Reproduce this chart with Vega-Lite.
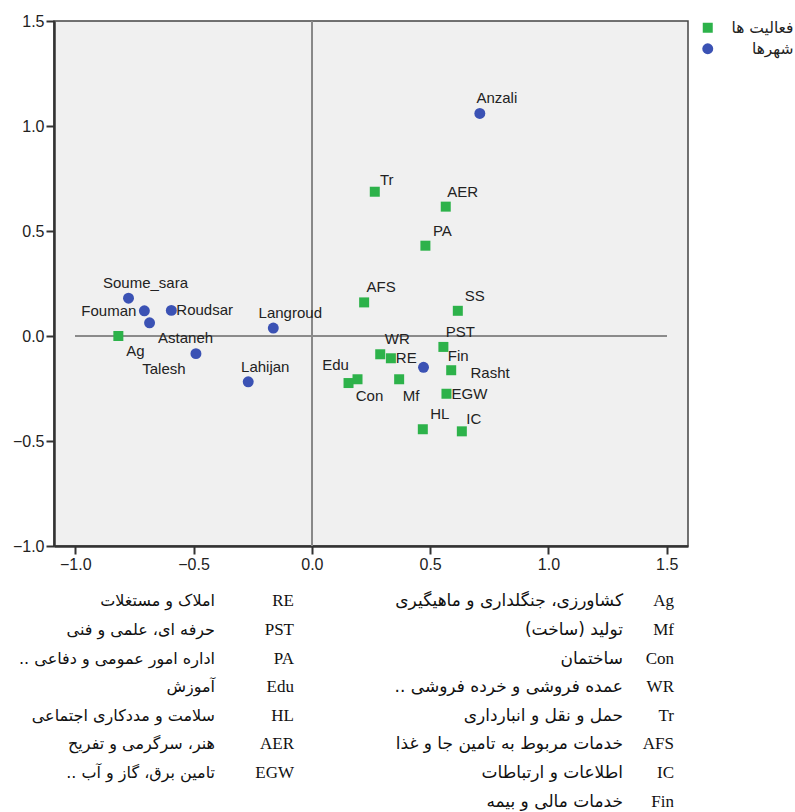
{
  "$schema": "https://vega.github.io/schema/vega-lite/v6.json",
  "padding": {"left": 0, "top": 12, "right": 0, "bottom": 0},
  "background": "white",
  "config": {
    "view": {"stroke": null},
    "font": "Liberation Sans"
  },
  "datasets": {
    "points": [
      {"name": "Anzali", "type": "شهرها", "x": 0.71, "y": 1.06},
      {"name": "Soume_sara", "type": "شهرها", "x": -0.775, "y": 0.18},
      {"name": "Fouman", "type": "شهرها", "x": -0.708, "y": 0.12},
      {"name": "Astaneh", "type": "شهرها", "x": -0.686, "y": 0.063},
      {"name": "Roudsar", "type": "شهرها", "x": -0.594, "y": 0.122},
      {"name": "Talesh", "type": "شهرها", "x": -0.49, "y": -0.084},
      {"name": "Langroud", "type": "شهرها", "x": -0.163, "y": 0.038},
      {"name": "Lahijan", "type": "شهرها", "x": -0.269, "y": -0.218},
      {"name": "Rasht", "type": "شهرها", "x": 0.472, "y": -0.149},
      {"name": "Ag", "type": "فعالیت ها", "x": -0.818, "y": 0.0},
      {"name": "Tr", "type": "فعالیت ها", "x": 0.266, "y": 0.687},
      {"name": "AER", "type": "فعالیت ها", "x": 0.566, "y": 0.616},
      {"name": "PA", "type": "فعالیت ها", "x": 0.48, "y": 0.43},
      {"name": "AFS", "type": "فعالیت ها", "x": 0.221, "y": 0.16},
      {"name": "SS", "type": "فعالیت ها", "x": 0.617, "y": 0.12},
      {"name": "PST", "type": "فعالیت ها", "x": 0.556, "y": -0.052},
      {"name": "WR", "type": "فعالیت ها", "x": 0.289, "y": -0.087},
      {"name": "RE", "type": "فعالیت ها", "x": 0.334, "y": -0.106},
      {"name": "Fin", "type": "فعالیت ها", "x": 0.589, "y": -0.163},
      {"name": "Edu", "type": "فعالیت ها", "x": 0.155, "y": -0.224},
      {"name": "Con", "type": "فعالیت ها", "x": 0.193, "y": -0.206},
      {"name": "Mf", "type": "فعالیت ها", "x": 0.369, "y": -0.206},
      {"name": "EGW", "type": "فعالیت ها", "x": 0.569, "y": -0.275},
      {"name": "HL", "type": "فعالیت ها", "x": 0.469, "y": -0.444},
      {"name": "IC", "type": "فعالیت ها", "x": 0.634, "y": -0.454}
    ],
    "codes": [
      {"col": "R", "row": 1, "code": "Ag", "desc": "کشاورزی، جنگلداری و ماهیگیری\u200f"},
      {"col": "R", "row": 2, "code": "Mf", "desc": "تولید (ساخت)\u200f"},
      {"col": "R", "row": 3, "code": "Con", "desc": "ساختمان\u200f"},
      {"col": "R", "row": 4, "code": "WR", "desc": "عمده فروشی و خرده فروشی ..\u200f"},
      {"col": "R", "row": 5, "code": "Tr", "desc": "حمل و نقل و انبارداری\u200f"},
      {"col": "R", "row": 6, "code": "AFS", "desc": "خدمات مربوط به تامین جا و غذا\u200f"},
      {"col": "R", "row": 7, "code": "IC", "desc": "اطلاعات و ارتباطات\u200f"},
      {"col": "R", "row": 8, "code": "Fin", "desc": "خدمات مالی و بیمه\u200f"},
      {"col": "L", "row": 1, "code": "RE", "desc": "املاک و مستغلات\u200f"},
      {"col": "L", "row": 2, "code": "PST", "desc": "حرفه ای، علمی و فنی\u200f"},
      {"col": "L", "row": 3, "code": "PA", "desc": "اداره امور عمومی و دفاعی ..\u200f"},
      {"col": "L", "row": 4, "code": "Edu", "desc": "آموزش\u200f"},
      {"col": "L", "row": 5, "code": "HL", "desc": "سلامت و مددکاری اجتماعی\u200f"},
      {"col": "L", "row": 6, "code": "AER", "desc": "هنر، سرگرمی و تفریح\u200f"},
      {"col": "L", "row": 7, "code": "EGW", "desc": "تامین برق، گاز و آب ..\u200f"}
    ]
  },
  "spacing": 14,
  "resolve": {"legend": {"color": "independent", "shape": "independent", "size": "independent"}},
  "vconcat": [
    {
      "width": 634,
      "height": 525,
      "view": {"fill": "#f0f0f0", "stroke": "#444444", "strokeWidth": 1.5},
      "data": {"name": "points"},
      "encoding": {
        "x": {"field": "x", "type": "quantitative",
          "scale": {"domain": [-1.09, 1.59], "nice": false, "zero": false},
          "axis": {"title": null, "values": [-1, -0.5, 0, 0.5, 1, 1.5], "format": ".1f", "grid": false,
            "domainColor": "#333333", "domainWidth": 2.5, "tickColor": "#333333", "tickWidth": 2, "tickSize": 8,
            "labelFontSize": 16, "labelColor": "#222222", "labelPadding": 2, "labelFont": "Liberation Sans"}},
        "y": {"field": "y", "type": "quantitative",
          "scale": {"domain": [-1.0, 1.5], "nice": false, "zero": false},
          "axis": {"title": null, "values": [-1, -0.5, 0, 0.5, 1, 1.5], "format": ".1f", "grid": false,
            "domainColor": "#333333", "domainWidth": 2.5, "tickColor": "#333333", "tickWidth": 2, "tickSize": 8,
            "labelFontSize": 16, "labelColor": "#222222", "labelPadding": 2, "labelFont": "Liberation Sans",
            "minExtent": 53, "maxExtent": 53}}
      },
      "layer": [
        {
          "mark": {"type": "rule", "color": "#8a8a8a", "strokeWidth": 1},
          "encoding": {"x": {"datum": 0}, "y": null}
        },
        {
          "mark": {"type": "rule", "color": "#8a8a8a", "strokeWidth": 1},
          "encoding": {"y": {"datum": 0}, "x": {"datum": -1.0}, "x2": {"datum": 1.5}}
        },
        {
          "mark": {"type": "point", "filled": true, "opacity": 1},
          "encoding": {
            "color": {"field": "type", "type": "nominal",
              "scale": {"domain": ["فعالیت ها", "شهرها"], "range": ["#2db24a", "#3b52b4"]},
              "legend": {"title": null, "orient": "none", "legendX": 646, "legendY": -1,
                "labelFontSize": 15.5, "labelFont": "DejaVu Sans", "labelColor": "#222222",
                "labelAlign": "right", "labelOffset": 78, "rowPadding": 4, "padding": 0}},
            "shape": {"field": "type", "type": "nominal",
              "scale": {"domain": ["فعالیت ها", "شهرها"], "range": ["square", "circle"]}},
            "size": {"field": "type", "type": "nominal",
              "scale": {"domain": ["فعالیت ها", "شهرها"], "range": [100, 120]}}
          }
        },
        {"transform": [{"filter": {"field": "name", "oneOf": ["Anzali", "Soume_sara", "Langroud", "Lahijan", "AER", "PA", "AFS", "SS", "PST", "WR", "HL"]}}],
          "mark": {"type": "text", "dx": 17, "dy": -15, "fontSize": 15, "color": "#222222"},
          "encoding": {"text": {"field": "name"}}},
        {"transform": [{"filter": {"field": "name", "oneOf": ["Tr", "IC"]}}],
          "mark": {"type": "text", "dx": 12, "dy": -12, "fontSize": 15, "color": "#222222"},
          "encoding": {"text": {"field": "name"}}},
        {"transform": [{"filter": {"field": "name", "oneOf": ["Fin"]}}],
          "mark": {"type": "text", "dx": 7, "dy": -14, "fontSize": 15, "color": "#222222"},
          "encoding": {"text": {"field": "name"}}},
        {"transform": [{"filter": {"field": "name", "oneOf": ["Roudsar", "RE", "EGW"]}}],
          "mark": {"type": "text", "align": "left", "dx": 5, "dy": 0, "fontSize": 15, "color": "#222222"},
          "encoding": {"text": {"field": "name"}}},
        {"transform": [{"filter": {"field": "name", "oneOf": ["Fouman"]}}],
          "mark": {"type": "text", "align": "right", "dx": -8, "dy": 0, "fontSize": 15, "color": "#222222"},
          "encoding": {"text": {"field": "name"}}},
        {"transform": [{"filter": {"field": "name", "oneOf": ["Ag"]}}],
          "mark": {"type": "text", "dx": 17, "dy": 15, "fontSize": 15, "color": "#222222"},
          "encoding": {"text": {"field": "name"}}},
        {"transform": [{"filter": {"field": "name", "oneOf": ["Astaneh"]}}],
          "mark": {"type": "text", "dx": 36, "dy": 15, "fontSize": 15, "color": "#222222"},
          "encoding": {"text": {"field": "name"}}},
        {"transform": [{"filter": {"field": "name", "oneOf": ["Talesh"]}}],
          "mark": {"type": "text", "dx": -32, "dy": 15, "fontSize": 15, "color": "#222222"},
          "encoding": {"text": {"field": "name"}}},
        {"transform": [{"filter": {"field": "name", "oneOf": ["Con", "Mf"]}}],
          "mark": {"type": "text", "dx": 12, "dy": 17, "fontSize": 15, "color": "#222222"},
          "encoding": {"text": {"field": "name"}}},
        {"transform": [{"filter": {"field": "name", "oneOf": ["Edu"]}}],
          "mark": {"type": "text", "dx": -13, "dy": -18, "fontSize": 15, "color": "#222222"},
          "encoding": {"text": {"field": "name"}}},
        {"transform": [{"filter": {"field": "name", "oneOf": ["Rasht"]}}],
          "mark": {"type": "text", "align": "left", "dx": 47, "dy": 6, "fontSize": 15, "color": "#222222"},
          "encoding": {"text": {"field": "name"}}}
      ]
    },
    {
      "width": 634,
      "height": 229,
      "data": {"name": "codes"},
      "encoding": {
        "x": {"field": "col", "type": "nominal", "scale": {"type": "point", "domain": ["L", "R"], "padding": 0.5}, "axis": null},
        "y": {"field": "row", "type": "ordinal", "scale": {"type": "point", "domain": [1, 2, 3, 4, 5, 6, 7, 8], "padding": 0.5}, "axis": null}
      },
      "layer": [
        {"transform": [{"filter": "datum.col === 'L'"}],
          "mark": {"type": "text", "align": "right", "dx": 81.5, "font": "Liberation Serif", "fontSize": 17, "color": "#111111"},
          "encoding": {"text": {"field": "code"}}},
        {"transform": [{"filter": "datum.col === 'L'"}],
          "mark": {"type": "text", "align": "right", "dx": 2.5, "font": "DejaVu Sans", "fontSize": 16, "color": "#111111"},
          "encoding": {"text": {"field": "desc"}}},
        {"transform": [{"filter": "datum.col === 'R'"}],
          "mark": {"type": "text", "align": "right", "dx": 144.5, "font": "Liberation Serif", "fontSize": 17, "color": "#111111"},
          "encoding": {"text": {"field": "code"}}},
        {"transform": [{"filter": "datum.col === 'R'"}],
          "mark": {"type": "text", "align": "right", "dx": 93.5, "font": "DejaVu Sans", "fontSize": 17, "color": "#111111"},
          "encoding": {"text": {"field": "desc"}}}
      ]
    }
  ]
}
